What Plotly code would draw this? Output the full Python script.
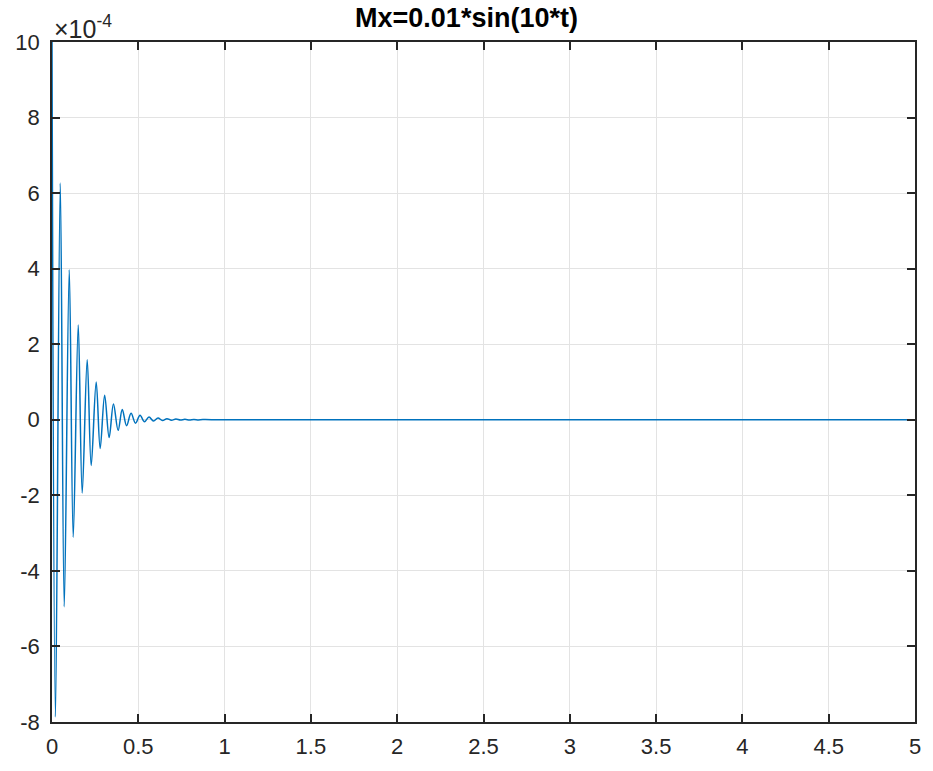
import plotly.graph_objects as go

# Extrema of the damped response (time in s, value in units of 1e-4)
t_points = [0.000, 0.020, 0.048, 0.071, 0.100, 0.123, 0.152, 0.175, 0.204, 0.227,
            0.256, 0.279, 0.305, 0.331, 0.356, 0.383, 0.407, 0.432, 0.458, 0.484,
            0.510, 0.536, 0.562, 0.588, 0.614, 0.640, 0.666, 0.692, 0.718, 0.744,
            0.770, 0.796, 0.822, 0.848, 0.874, 1.000, 5.000]
mx_points = [10.0, -7.87, 6.27, -4.95, 3.97, -3.11, 2.51, -1.94, 1.59, -1.21,
             1.00, -0.76, 0.65, -0.47, 0.42, -0.28, 0.27, -0.16, 0.17, -0.09,
             0.12, -0.055, 0.075, -0.034, 0.048, -0.021, 0.030, -0.013, 0.019, -0.008,
             0.012, -0.005, 0.008, -0.003, 0.005, 0.0, 0.0]
scale = 1e-4

x_ticks = [0, 0.5, 1, 1.5, 2, 2.5, 3, 3.5, 4, 4.5, 5]
x_tick_text = ["0", "0.5", "1", "1.5", "2", "2.5", "3", "3.5", "4", "4.5", "5"]
y_ticks = [-8, -6, -4, -2, 0, 2, 4, 6, 8, 10]
y_tick_text = ["-8", "-6", "-4", "-2", "0", "2", "4", "6", "8", "10"]

axis_color = "#262626"
grid_color = "#e3e3e3"
font_family = "Liberation Sans, Arial, sans-serif"

fig = go.Figure()
fig.add_trace(go.Scatter(
    x=t_points,
    y=[v * scale for v in mx_points],
    mode="lines",
    line=dict(color="#0072BD", width=1.5, shape="spline", smoothing=1.0),
    hoverinfo="x+y",
))

common_axis = dict(
    showline=True, linecolor=axis_color, linewidth=1.5, mirror="ticks",
    ticks="inside", ticklen=8, tickwidth=1.5, tickcolor=axis_color,
    showgrid=True, gridcolor=grid_color, gridwidth=1,
    zeroline=False,
    tickfont=dict(family=font_family, size=22, color=axis_color),
)

fig.update_xaxes(
    range=[0, 5], tickvals=x_ticks, ticktext=x_tick_text,
    ticklabelstandoff=4, **common_axis
)
fig.update_yaxes(
    range=[-8 * scale, 10 * scale],
    tickvals=[v * scale for v in y_ticks], ticktext=y_tick_text,
    ticklabelstandoff=6, **common_axis
)

fig.update_layout(
    width=933, height=771,
    margin=dict(l=52, r=13, t=42, b=46),
    paper_bgcolor="white", plot_bgcolor="white",
    showlegend=False,
    title=dict(
        text="<b>Mx=0.01*sin(10*t)</b>",
        x=0.5, xanchor="center", y=0.977, yanchor="middle",
        font=dict(family=font_family, size=27, color="black"),
    ),
    annotations=[dict(
        text="×10<sup>-4</sup>",
        xref="paper", yref="paper", x=0.0, y=1.0,
        xanchor="left", yanchor="bottom", xshift=0, yshift=-3,
        showarrow=False,
        font=dict(family=font_family, size=25, color=axis_color),
    )],
)

fig.write_html("out.html")
